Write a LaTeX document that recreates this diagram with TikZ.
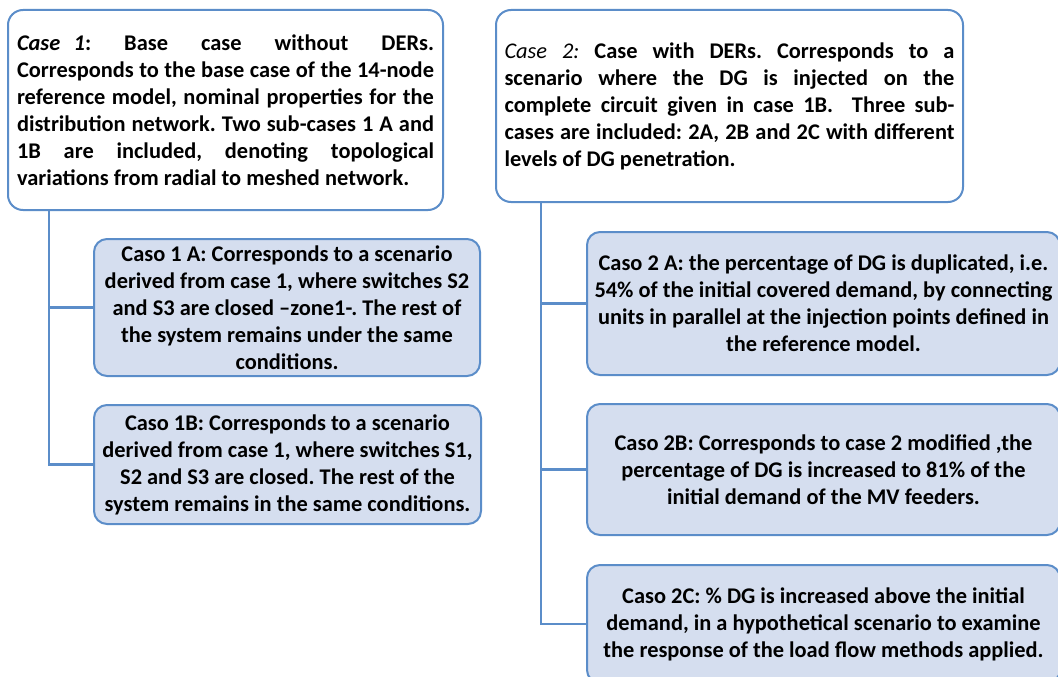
\documentclass[tikz,border=0pt]{standalone}
\usepackage{fontspec}
\setmainfont{Carlito}
\definecolor{caseblue}{RGB}{91,141,201}
\definecolor{casefill}{RGB}{213,222,239}
\tikzset{
  casebox/.style={draw=caseblue, line width=2pt, rounded corners=15pt, fill=white,
    inner sep=0pt, align=justify, font=\bfseries\fontsize{22.4}{27}\selectfont\frenchspacing},
  subbox/.style={draw=caseblue, line width=2pt, rounded corners=13pt, fill=casefill,
    inner sep=0pt, align=center, font=\bfseries\fontsize{22.4}{27}\selectfont\frenchspacing},
  branch/.style={draw=caseblue, line width=2.2pt}
}
\begin{document}
\begin{tikzpicture}[x=1pt, y=-1pt]
  \useasboundingbox (0,0) rectangle (1058,677);
  \clip (0,0) rectangle (1058,677);
  % main cases
  \node[casebox, minimum width=435pt, minimum height=200pt, text width=417pt] (case1) at (225.5,110)
    {\textit{Case\hspace{0.6em}1}: Base case without DERs.\linebreak
     Corresponds to the base case of the 14-node\linebreak
     reference model, nominal properties for the\linebreak
     distribution network. Two sub-cases 1 A and\linebreak
     1B are included, denoting topological\linebreak
     variations from radial to meshed network.};
  \node[casebox, minimum width=467pt, minimum height=192pt, text width=450pt] (case2) at (729.5,106)
    {{\mdseries\textit{Case 2:}} Case with DERs. Corresponds to a\linebreak
     scenario where the DG is injected on the\linebreak
     complete circuit given in case 1B.~ Three sub-\linebreak
     cases are included: 2A, 2B and 2C with different\linebreak
     levels of DG penetration.};
  % sub-cases of case 1
  \node[subbox, minimum width=386pt, minimum height=137pt] (case1a) at (287,307.5)
    {Caso 1 A: Corresponds to a scenario\\
     derived from case 1, where switches S2\\
     and S3 are closed --zone1-. The rest of\\
     the system remains under the same\\
     conditions.};
  \node[subbox, minimum width=387pt, minimum height=119pt] (case1b) at (287.5,464.5)
    {Caso 1B: Corresponds to a scenario\\
     derived from case 1, where switches S1,\\
     S2 and S3 are closed. The rest of the\\
     system remains in the same conditions.};
  % sub-cases of case 2
  \node[subbox, minimum width=473pt, minimum height=143pt] (case2a) at (823.5,303.5)
    {Caso 2 A: the percentage of DG is duplicated, i.e.\\
     54\% of the initial covered demand, by connecting\\
     units in parallel at the injection points defined in\\
     the reference model.};
  \node[subbox, minimum width=473pt, minimum height=131pt] (case2b) at (823.5,469.5)
    {Caso 2B: Corresponds to case 2 modified ,the\\
     percentage of DG is increased to 81\% of the\\
     initial demand of the MV feeders.};
  \node[subbox, minimum width=473pt, minimum height=118pt] (case2c) at (823.5,624)
    {Caso 2C: \% DG is increased above the initial\\
     demand, in a hypothetical scenario to examine\\
     the response of the load flow methods applied.};
  % connectors
  \draw[branch] ([xshift=42pt]case1.south west) |- (case1a.west);
  \draw[branch] ([xshift=42pt]case1.south west) |- (case1b.west);
  \draw[branch] ([xshift=46pt]case2.south west) |- (case2a.west);
  \draw[branch] ([xshift=46pt]case2.south west) |- (case2b.west);
  \draw[branch] ([xshift=46pt]case2.south west) |- (case2c.west);
\end{tikzpicture}
\end{document}
